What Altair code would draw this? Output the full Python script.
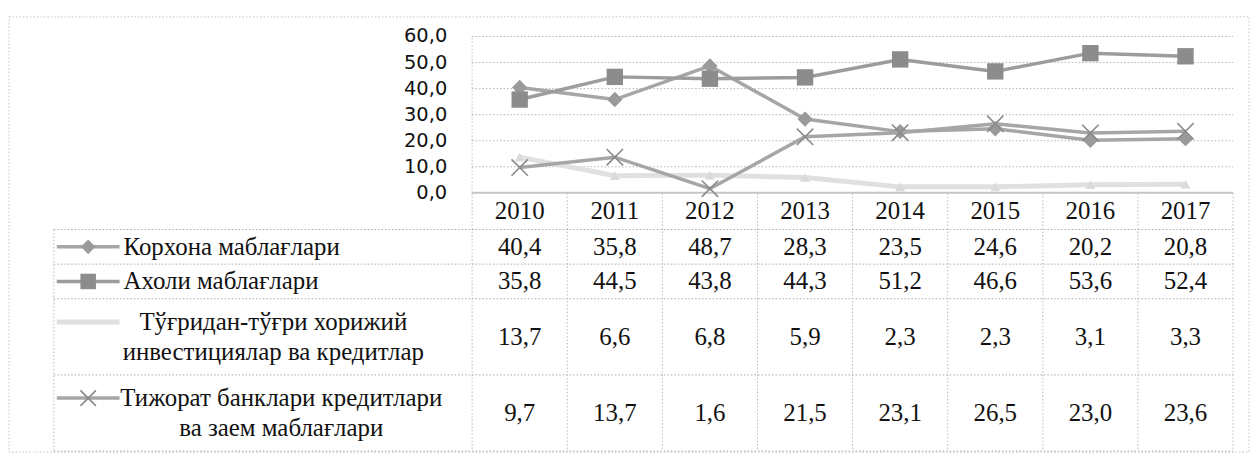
import altair as alt
import pandas as pd

# ---------------- data ----------------
years = [2010, 2011, 2012, 2013, 2014, 2015, 2016, 2017]
labels = [
    "Корхона маблағлари",
    "Ахоли маблағлари",
    "Тўғридан-тўғри хорижий\nинвестициялар  ва кредитлар",
    "Тижорат банклари кредитлари\nва заем маблағлари",
]
korxona = [40.4, 35.8, 48.7, 28.3, 23.5, 24.6, 20.2, 20.8]
aholi = [35.8, 44.5, 43.8, 44.3, 51.2, 46.6, 53.6, 52.4]
fdi = [13.7, 6.6, 6.8, 5.9, 2.3, 2.3, 3.1, 3.3]
bank = [9.7, 13.7, 1.6, 21.5, 23.1, 26.5, 23.0, 23.6]
y_ticks = [0, 10, 20, 30, 40, 50, 60]

values = [korxona, aholi, fdi, bank]
keys = ["k", "a", "f", "b"]

# ---------------- style ----------------
CW = 95.5                 # px per year column
W = 1184                  # full width of both panels
Y_TOP = 66                # headroom above 60 so tick text stays inside the view
H_PLOT60 = 157            # px from 0 to 60
H_TOP = H_PLOT60 * Y_TOP / 60
H_TAB = 259
XMIN = 8 - W / CW         # label column extends left of year columns
SERIF = "Liberation Serif"
SANS = "DejaVu Sans"
LINE_H = 30
LAB_FS = 25

style = {
    "k": dict(line="#a6a6a6", lw=3.5, mk="#9a9a9a", shape="diamond", size=240, filled=True),
    "a": dict(line="#9c9c9c", lw=3.5, mk="#8c8c8c", shape="square", size=270, filled=True),
    "f": dict(line="#e0e0e0", lw=5, mk="#dadada", shape="triangle-up", size=100, filled=True),
    "b": dict(line="#a6a6a6", lw=3.5, mk="#8a8a8a", shape="M-1,-1L1,1M-1,1L1,-1", size=270, filled=False),
}

def fmt(v):
    return f"{v:.1f}".replace(".", ",")

def est_width(s, fs):
    """rough width estimate of a serif text line, for centring wrapped labels"""
    w = 0.0
    for ch in s:
        if ch == " ":
            w += 0.25
        elif ch in "-":
            w += 0.33
        elif ch in "жшщмюЖШЩМЮ":
            w += 0.72
        elif ch in "ТКХАБ":
            w += 0.64
        else:
            w += 0.47
    return w * fs

xs = alt.Scale(domain=[XMIN, 8], nice=False, zero=False)
ys_top = alt.Scale(domain=[0, Y_TOP], nice=False, zero=False)

rows = []
for key, lab, vals in zip(keys, labels, values):
    for i, (yr, v) in enumerate(zip(years, vals)):
        rows.append(dict(key=key, label=lab, year=str(yr), xi=i + 0.5, value=v, txt=fmt(v)))
df = pd.DataFrame(rows)

# ---------------- top: line chart ----------------
grid_df = pd.DataFrame({"v": y_ticks, "x0": 0.0, "x1": 8.0, "txt": [fmt(t) for t in y_ticks]})

grid = alt.Chart(grid_df).transform_filter("datum.v > 0").mark_rule(
    color="#b4b4b4", strokeDash=[1.5, 2], strokeWidth=1
).encode(
    x=alt.X("x0:Q", scale=xs, axis=None), x2="x1:Q",
    y=alt.Y("v:Q", scale=ys_top, axis=None),
)
zero_line = alt.Chart(grid_df).transform_filter("datum.v == 0").mark_rule(
    color="#c6c6c6", strokeWidth=2
).encode(x=alt.X("x0:Q", scale=xs, axis=None), x2="x1:Q", y=alt.Y("v:Q", scale=ys_top, axis=None))

left_edge = alt.Chart(grid_df).transform_aggregate(lo="min(v)", hi="max(v)", x0="min(x0)").mark_rule(
    color="#c0c0c0", strokeDash=[1.5, 2], strokeWidth=1
).encode(x=alt.X("x0:Q", scale=xs, axis=None), y=alt.Y("lo:Q", scale=ys_top, axis=None), y2="hi:Q")

ylabels = alt.Chart(grid_df).mark_text(
    align="right", baseline="middle", dx=-25, font=SANS, fontSize=19.5, color="#111111"
).encode(x=alt.X("x0:Q", scale=xs, axis=None), y=alt.Y("v:Q", scale=ys_top, axis=None), text="txt:N")

top_layers = [grid, zero_line, left_edge, ylabels]
for key in ["f", "k", "b", "a"]:
    s = style[key]
    sub = alt.Chart(df).transform_filter(f"datum.key == '{key}'")
    top_layers.append(
        sub.mark_line(color=s["line"], strokeWidth=s["lw"]).encode(
            x=alt.X("xi:Q", scale=xs, axis=None), y=alt.Y("value:Q", scale=ys_top, axis=None)
        )
    )
    top_layers.append(
        sub.mark_point(shape=s["shape"], size=s["size"], filled=s["filled"], color=s["mk"],
                       strokeWidth=1.6 if not s["filled"] else 1, opacity=1).encode(
            x=alt.X("xi:Q", scale=xs, axis=None), y=alt.Y("value:Q", scale=ys_top, axis=None)
        )
    )

top = alt.layer(*top_layers).properties(width=W, height=H_TOP)

# ---------------- bottom: data table ----------------
n_lines = [lab.count("\n") + 1 for lab in labels]
units = [1.05] + [1.0 if n == 1 else 2.2 for n in n_lines]
bounds = [0.0]
for u in units:
    bounds.append(bounds[-1] + u)
T = bounds[-1]
PXU = H_TAB / T
ys_tab = alt.Scale(domain=[0, T], reverse=True, nice=False, zero=False)

row_center = {k: (bounds[i + 1] + bounds[i + 2]) / 2 for i, k in enumerate(keys)}
df["ry"] = df["key"].map(row_center)

hl = pd.DataFrame({"y": bounds[1:], "x0": XMIN, "x1": 8.0})
vl = pd.DataFrame({"x": list(range(9)) + [XMIN],
                   "y0": [0.0] * 9 + [bounds[1]],
                   "y1": [T] * 10})

hlines = alt.Chart(hl).mark_rule(color="#a8a8a8", strokeDash=[1.5, 2], strokeWidth=1).encode(
    x=alt.X("x0:Q", scale=xs, axis=None), x2="x1:Q", y=alt.Y("y:Q", scale=ys_tab, axis=None)
)
vlines = alt.Chart(vl).mark_rule(color="#b8b8b8", strokeDash=[1.5, 2], strokeWidth=1).encode(
    x=alt.X("x:Q", scale=xs, axis=None), y=alt.Y("y0:Q", scale=ys_tab, axis=None), y2="y1:Q"
)

# outer chart-area frame (dotted), spanning plot + table: 20px above the 60 line
frame_df = pd.DataFrame({"x0": [XMIN - 45 / CW], "x1": [8 + 16 / CW],
                         "y0": [-(H_PLOT60 + 20) / PXU],
                         "y1": [T + 1 / PXU]})
frame = alt.Chart(frame_df).mark_rect(
    fill=None, filled=False, stroke="#c4c4c4", strokeDash=[1.5, 2], strokeWidth=1
).encode(
    x=alt.X("x0:Q", scale=xs, axis=None), x2="x1:Q",
    y=alt.Y("y0:Q", scale=ys_tab, axis=None), y2="y1:Q",
)

year_df = pd.DataFrame({"year": [str(y) for y in years], "xi": [i + 0.5 for i in range(len(years))],
                        "ry": (bounds[0] + bounds[1]) / 2})
year_text = alt.Chart(year_df).mark_text(font=SERIF, fontSize=25, color="#111111", baseline="middle").encode(
    x=alt.X("xi:Q", scale=xs, axis=None), y=alt.Y("ry:Q", scale=ys_tab, axis=None), text="year:N"
)
val_text = alt.Chart(df).mark_text(font=SERIF, fontSize=25, color="#111111", baseline="middle").encode(
    x=alt.X("xi:Q", scale=xs, axis=None), y=alt.Y("ry:Q", scale=ys_tab, axis=None), text="txt:N"
)

# legend column
lab_left = XMIN + 70 / CW
sym_x0 = XMIN + 3 / CW
sym_x1 = XMIN + 66 / CW
leg_rows = []
for k, lab, n in zip(keys, labels, n_lines):
    wmax = max(est_width(p, LAB_FS) for p in lab.split("\n"))
    cx = lab_left if n == 1 else lab_left + wmax / 2 / CW
    top_line_y = row_center[k] - (n - 1) * LINE_H / 2 / PXU
    leg_rows.append(dict(key=k, label=lab, n=n, lx=cx, ly=top_line_y,
                         sy=top_line_y, sx0=sym_x0, sx1=sym_x1, sxm=(sym_x0 + sym_x1) / 2))
leg = pd.DataFrame(leg_rows)

lab_single = alt.Chart(leg).transform_filter("datum.n == 1").mark_text(
    font=SERIF, fontSize=LAB_FS, color="#111111", align="left", baseline="middle"
).encode(x=alt.X("lx:Q", scale=xs, axis=None), y=alt.Y("ly:Q", scale=ys_tab, axis=None), text="label:N")
lab_multi = alt.Chart(leg).transform_filter("datum.n > 1").mark_text(
    font=SERIF, fontSize=LAB_FS, color="#111111", align="center", baseline="middle",
    lineBreak="\n", lineHeight=LINE_H
).encode(x=alt.X("lx:Q", scale=xs, axis=None), y=alt.Y("ly:Q", scale=ys_tab, axis=None), text="label:N")

tab_layers = [frame, hlines, vlines, year_text, val_text, lab_single, lab_multi]
for key in keys:
    s = style[key]
    sub = alt.Chart(leg).transform_filter(f"datum.key == '{key}'")
    tab_layers.append(sub.mark_rule(color=s["line"], strokeWidth=s["lw"]).encode(
        x=alt.X("sx0:Q", scale=xs, axis=None), x2="sx1:Q", y=alt.Y("sy:Q", scale=ys_tab, axis=None)))
    if key != "f":
        tab_layers.append(sub.mark_point(shape=s["shape"], size=s["size"] * 0.9, filled=s["filled"],
                                         color=s["mk"], strokeWidth=1.6 if not s["filled"] else 1,
                                         opacity=1).encode(
            x=alt.X("sxm:Q", scale=xs, axis=None), y=alt.Y("sy:Q", scale=ys_tab, axis=None)))

bottom = alt.layer(*tab_layers).properties(width=W, height=H_TAB)

chart = alt.vconcat(top, bottom, spacing=0, bounds="flush").properties(
    padding={"left": 0, "top": 7, "right": 0, "bottom": 0},
    background="white",
).configure_view(stroke=None)

chart.save("out.html", embed_options={"renderer": "svg", "actions": False})
